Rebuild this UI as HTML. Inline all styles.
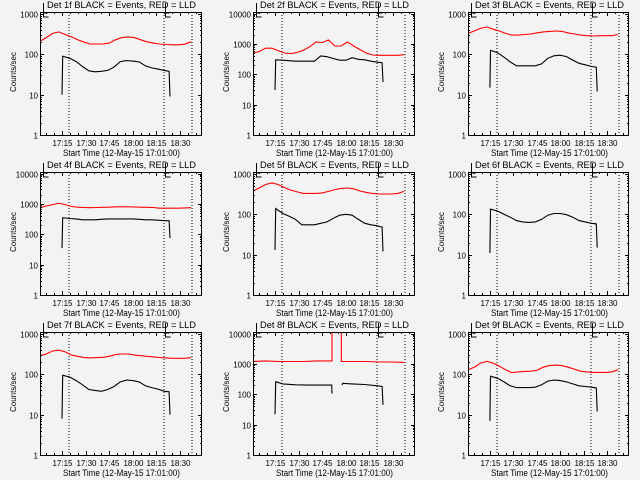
<!DOCTYPE html>
<html><head><meta charset="utf-8"><style>
html,body{margin:0;padding:0;background:#f3f3f3;}
svg{display:block;}
text{font-family:"Liberation Sans",sans-serif;fill:#000;}
</style></head><body>
<svg id="chart" width="640" height="480" viewBox="0 0 640 480" xmlns="http://www.w3.org/2000/svg">
<rect width="640" height="480" fill="#f3f3f3"/>
</svg>
<script>
// ---- data (time in minutes after 17:00, values counts/sec) ----
const detNames = ["1f","2f","3f","4f","5f","6f","7f","8f","9f"];
const decades = [3,4,3,4,3,3,3,4,3];
const redDefaultT = [1,5,9,13,17,21,25,29,33,37,41,45,49,53,57,61,65,69,73,77,81,85,89,93,97];
const blkDefaultT = [15,15.4,20,24,28,32,36,40,44,48,52,56,60,64,68,72,76,80,83,83.6];
const red1 = [210,260,330,360,310,270,230,200,180,180,180,190,230,260,270,260,230,205,190,180,175,172,172,178,205];
const blk1 = [10,90,80,66,50,39,37,38,40,48,66,70,68,65,52,46,43,40,38,9];
const red2 = [500,560,720,720,600,500,480,520,620,800,1150,1100,1350,850,850,1150,850,650,500,430,420,420,420,420,440];
const blk2 = [30,300,290,280,270,270,270,270,400,380,330,290,290,350,310,300,270,250,240,55];
const red3 = [330,380,440,480,420,380,330,300,300,310,320,340,360,370,380,370,340,320,300,290,285,290,290,290,310];
const blk3 = [15,125,110,85,65,52,52,52,52,58,80,92,95,88,72,60,55,50,48,12];
const red4 = [750,850,950,1050,950,820,780,760,750,760,770,780,800,800,800,790,780,770,760,720,720,720,720,740,750];
const blk4 = [35,350,330,320,300,300,300,310,320,320,320,320,320,310,300,300,290,280,280,75];
const red5 = [380,450,550,600,550,460,400,360,330,330,330,340,370,410,440,450,430,380,350,330,320,320,320,330,370];
const blk5 = [13,140,105,90,75,55,55,55,60,65,80,95,100,95,75,60,55,52,48,12];
const red6 = [];
const blk6 = [11,135,120,100,85,70,65,63,65,75,95,105,105,98,85,70,65,60,58,15];
const red7 = [290,320,380,400,360,300,280,260,255,260,265,280,310,320,320,300,290,280,270,260,255,250,250,250,260];
const blk7 = [8,95,85,70,55,42,40,38,42,50,65,72,70,65,52,47,43,38,37,10];
const red8T = [1,9,17,25,33,41,51.2,51.2,57.1,57.1,65,73,81,89,97];
const red8 = [1200,1250,1200,1200,1200,1250,1250,30000,30000,1200,1200,1200,1150,1150,1120];
const blk8T = [15,15.4,20,28,36,44,51,51.2,null,57.6,58,64,72,80,83,83.6];
const blk8 = [22,260,220,205,200,200,200,105,null,200,230,220,210,190,180,45];
const red9 = [130,150,190,210,190,160,130,110,115,118,120,125,150,165,170,165,150,135,120,115,112,112,112,115,130];
const blk9 = [7,90,80,65,52,47,47,47,48,55,68,72,70,65,58,52,50,48,46,12];
const redVals = [red1,red2,red3,red4,red5,red6,red7,red8,red9];
const blkVals = [blk1,blk2,blk3,blk4,blk5,blk6,blk7,blk8,blk9];
const redTimes = [null,null,null,null,null,null,null,red8T,null];
const blkTimes = [null,null,null,null,null,null,null,blk8T,null];
const xTickMins = [15,30,45,60,75,90];
const xTickLabels = ["17:15","17:30","17:45","18:00","18:15","18:30"];
const markerMins = [19.4,79.8,97.6];
const yTickLabels = ["1","10","100","1000","10000"];

const NS="http://www.w3.org/2000/svg";
const svg=document.getElementById('chart');
const colL=[40,253,468], colW=[161,161,160], rowT=[12,172,332], H=123;
const T0=1, T1=103.3;
function el(tag,attrs,parent){const e=document.createElementNS(NS,tag);for(const k in attrs)e.setAttribute(k,attrs[k]);(parent||svg).appendChild(e);return e;}

for(let p=0;p<9;p++){
  const L=colL[p%3], W=colW[p%3], T=rowT[Math.floor(p/3)], B=T+H;
  const dec=decades[p], ymaxLog=dec+0.05;
  const xs=t=>L+(t-T0)/(T1-T0)*W;
  const ys=v=>B-Math.log10(Math.max(v,1e-9))/ymaxLog*H;
  const g=el('g',{});
  
  
  // title
  const tt=el('text',{x:L+7,y:T-4,'font-size':9,'text-anchor':'start',textLength:149,lengthAdjust:'spacingAndGlyphs'},g);
  tt.textContent='Det '+detNames[p]+' BLACK = Events, RED = LLD';
  
  
  // clip
  const cid='c'+p;
  const cp=el('clipPath',{id:cid},g); el('rect',{x:L,y:T,width:W,height:H},cp);
  // dotted markers
  for(const m of markerMins){
    const ln=el('line',{x1:xs(m),x2:xs(m),y1:T,y2:B,stroke:'#000','stroke-width':1,'stroke-dasharray':'1,2','shape-rendering':'crispEdges'},g);
    
    
  }
  // E brackets
  for(const m of [3,80.5]){
    const x=Math.round(xs(m))+0.5;
    const br=el('path',{d:`M${x},${T-9}V${T+5}H${x+5}M${x},${T+1}H${x+4}`,stroke:'#000',fill:'none','stroke-width':1},g);
    
    
  }
  // series
  function drawSeries(times,vals,color,name){
    if(!vals.length)return;
    let d='',pen=false;
    for(let i=0;i<vals.length;i++){
      if(times[i]===null||vals[i]===null){pen=false;continue;}
      d+=(pen?'L':'M')+xs(times[i]).toFixed(1)+','+ys(vals[i]).toFixed(1);pen=true;
    }
    const pth=el('path',{d:d,stroke:color,fill:'none','stroke-width':1.1,'clip-path':`url(#${cid})`},g);
    
    
  }
  drawSeries(redTimes[p]||redDefaultT,redVals[p],'#ff0000','lld-series');
  drawSeries(blkTimes[p]||blkDefaultT,blkVals[p],'#000000','events-series');
  // frame
  const fr=el('rect',{x:L+0.5,y:T+0.5,width:W,height:H,fill:'none',stroke:'#000','stroke-width':1,'shape-rendering':'crispEdges'},g);
  
  
  // y ticks
  let td='';
  for(let k=0;k<=dec;k++){
    const y=Math.round(ys(Math.pow(10,k)))+0.5;
    td+=`M${L},${y}h4M${L+W+1},${y}h-4`;
    const lb=el('text',{x:L-2,y:y+3,'font-size':8,'text-anchor':'end'},g);
    lb.textContent=yTickLabels[k];
    
    
    if(k<dec)for(let j=2;j<=9;j++){const ym=Math.round(ys(j*Math.pow(10,k)))+0.5;td+=`M${L},${ym}h2M${L+W+1},${ym}h-2`;}
  }
  for(let i=0;i<xTickMins.length;i++){
    const x=Math.round(xs(xTickMins[i]))+0.5;
    td+=`M${x},${B}v-4M${x},${T}v4`;
    const lb=el('text',{x:x,y:B+11,'font-size':8,'text-anchor':'middle'},g);
    lb.textContent=xTickLabels[i];
    
    
  }
  for(let m=5;m<T1;m+=5){const x=Math.round(xs(m))+0.5;td+=`M${x},${B}v-2M${x},${T}v2`;}
  const tk=el('path',{d:td,stroke:'#000','stroke-width':1,fill:'none','shape-rendering':'crispEdges'},g);
  
  
  // axis titles
  const xl=el('text',{x:L+23,y:B+21,'font-size':9,'text-anchor':'start',textLength:117,lengthAdjust:'spacingAndGlyphs'},g);
  xl.textContent='Start Time (12-May-15 17:01:00)';
  
  
  const yx=L-24, yy=T+80;
  const yl=el('text',{x:yx,y:yy,'font-size':8,'text-anchor':'start',transform:`rotate(-90 ${yx} ${yy})`,textLength:40,lengthAdjust:'spacingAndGlyphs'},g);
  yl.textContent='Counts/sec';
  
  
}
</script>
</body></html>
